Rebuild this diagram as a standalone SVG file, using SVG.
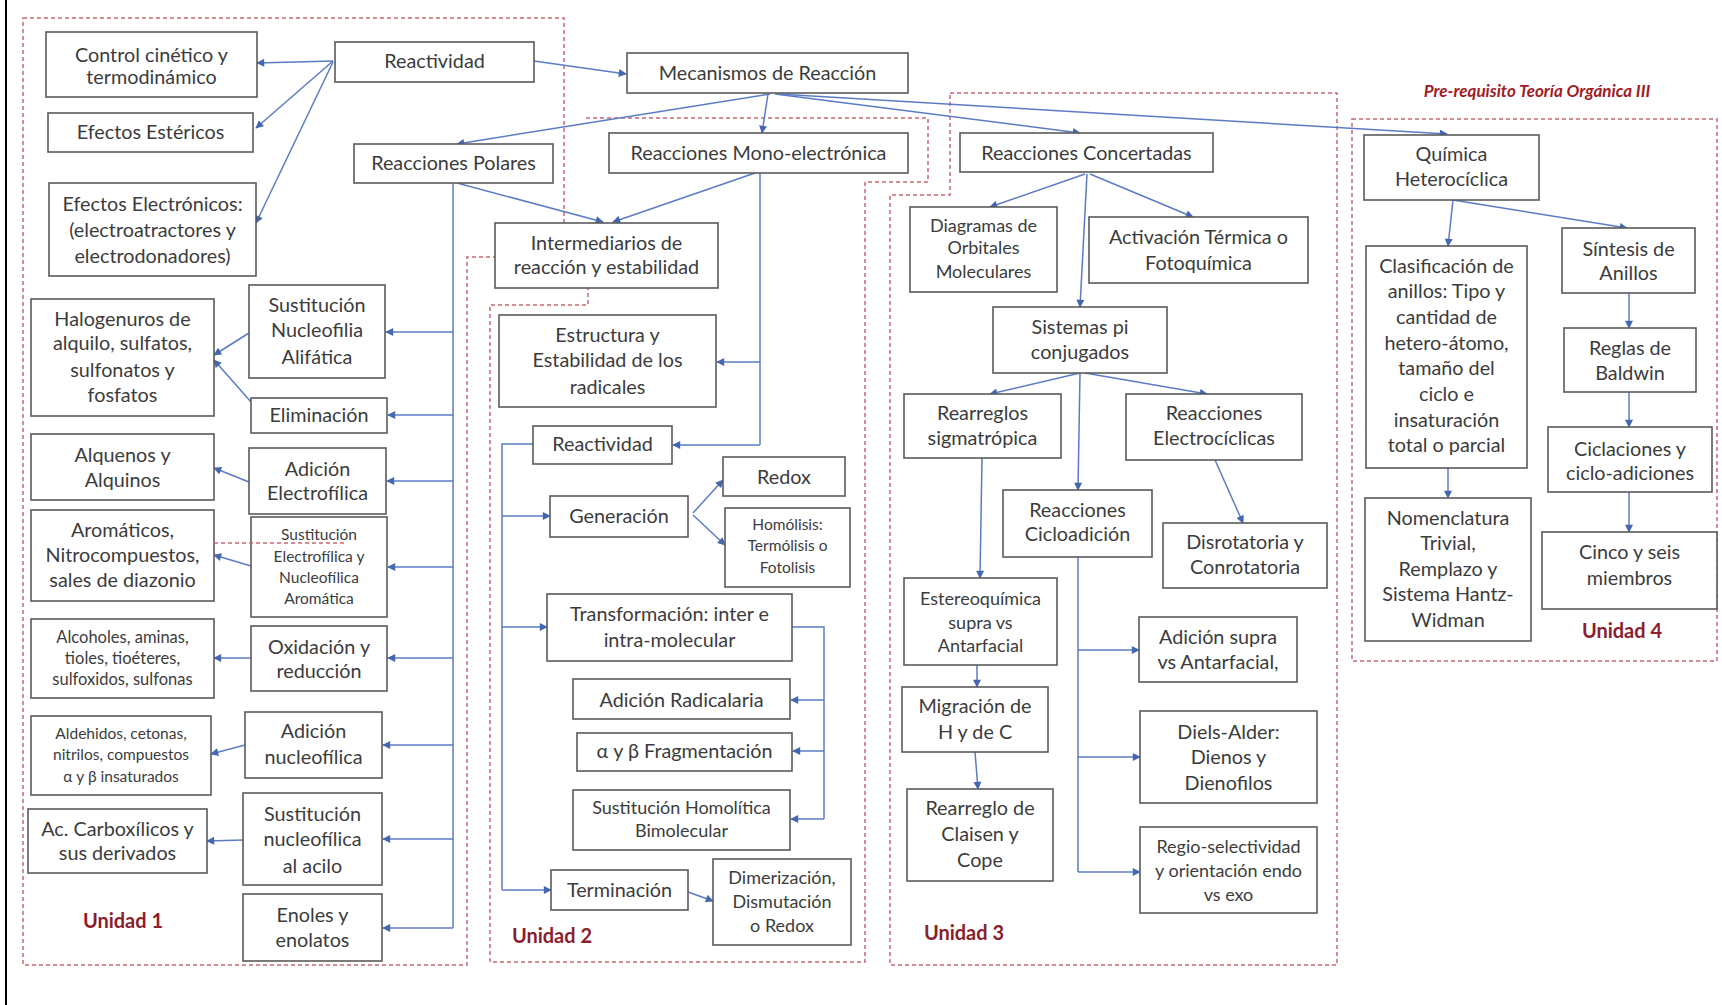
<svg xmlns="http://www.w3.org/2000/svg" width="1722" height="1005" viewBox="0 0 1722 1005">
<defs>
<style>
.n rect{fill:#fff;stroke:#5a5a5a;stroke-width:1.6}
.n text{font-family:Lato,"Liberation Sans",sans-serif;font-size:19.8px;fill:#3c3c3c;text-anchor:middle}
.n text.s{font-size:15.5px}
.n text.s2{font-size:16.5px}
.n text.m{font-size:18px}
.c path{fill:none;stroke:#5b7cc4;stroke-width:1.5}
.c path.a{marker-end:url(#ar)}
.u{fill:none;stroke:#c46a72;stroke-width:1.5;stroke-dasharray:4 3}
.lab{font-family:Lato,"Liberation Sans",sans-serif;font-size:20px;font-weight:bold;fill:#8b1e2d;text-anchor:middle}
</style>
<marker id="ar" viewBox="0 0 10 10" refX="9" refY="5" markerWidth="9" markerHeight="8" markerUnits="userSpaceOnUse" orient="auto"><path d="M0,0 L10,5 L0,10 z" fill="#4566b0"/></marker>
</defs>
<rect width="1722" height="1005" fill="#fff"/>
<path d="M6,0 V1005" stroke="#000" stroke-width="2"/>
<g id="boundaries">
<path class="u" d="M23,18 H564 V257 H467 V965 H23 Z"/>
<path class="u" d="M586,118 H928 V182 H865 V962 H490 V305 H588 V230"/>
<path class="u" d="M950,93 H1337 V965 H890 V195 H950 Z"/>
<rect class="u" x="1352" y="119" width="365" height="542"/>
</g>
<g id="connectors" class="c">
<path class="a" d="M333,61 L257,63"/>
<path class="a" d="M333,61 L256,128"/>
<path class="a" d="M333,62 L256,223"/>
<path class="a" d="M534,61 L626,74"/>
<path class="a" d="M770,94 L457,144"/>
<path class="a" d="M768,94 L762,133"/>
<path class="a" d="M775,94 L1080,133"/>
<path class="a" d="M778,94 L1447,134"/>
<path class="a" d="M457,183 L603,222"/>
<path class="a" d="M755,173 L613,222"/>
<path d="M453,183 V928"/>
<path class="a" d="M453,332 H386"/>
<path class="a" d="M453,415 H388"/>
<path class="a" d="M453,481 H387"/>
<path class="a" d="M453,567 H388"/>
<path class="a" d="M453,658 H388"/>
<path class="a" d="M453,745 H383"/>
<path class="a" d="M453,839 H383"/>
<path class="a" d="M453,928 H383"/>
<path class="a" d="M249,333 L214,355"/>
<path class="a" d="M251,402 L214,360"/>
<path class="a" d="M249,482 L214,468"/>
<path class="a" d="M251,566 L214,555"/>
<path class="a" d="M251,658 L214,658"/>
<path class="a" d="M245,745 L211,754"/>
<path class="a" d="M243,840 L207,841"/>
<path d="M760,173 V445"/>
<path class="a" d="M760,362 H717"/>
<path class="a" d="M760,445 H673"/>
<path d="M533,444 H502 V890"/>
<path class="a" d="M502,516 H550"/>
<path class="a" d="M502,627 H547"/>
<path class="a" d="M502,890 H551"/>
<path class="a" d="M693,513 L723,480"/>
<path class="a" d="M693,515 L725,545"/>
<path d="M792,627 H824 V819"/>
<path class="a" d="M824,700 H791"/>
<path class="a" d="M824,751 H793"/>
<path class="a" d="M824,819 H791"/>
<path class="a" d="M688,892 L713,901"/>
<path class="a" d="M1085,174 L990,207"/>
<path class="a" d="M1090,174 L1193,217"/>
<path class="a" d="M1087,174 L1080,307"/>
<path class="a" d="M1080,373 L990,394"/>
<path class="a" d="M1085,373 L1207,394"/>
<path class="a" d="M1080,373 L1078,490"/>
<path class="a" d="M1215,460 L1243,523"/>
<path class="a" d="M982,458 L980,578"/>
<path class="a" d="M977,665 L977,687"/>
<path class="a" d="M975,752 L978,789"/>
<path d="M1078,557 V872"/>
<path class="a" d="M1078,650 H1139"/>
<path class="a" d="M1078,757 H1140"/>
<path class="a" d="M1078,872 H1140"/>
<path class="a" d="M1453,200 L1448,246"/>
<path class="a" d="M1453,200 L1627,228"/>
<path class="a" d="M1448,468 L1448,498"/>
<path class="a" d="M1629,293 V328"/>
<path class="a" d="M1629,392 V427"/>
<path class="a" d="M1629,492 V532"/>
</g>
<g id="n-control" class="n"><rect x="46" y="32" width="211" height="65"/><text><tspan x="151.5" y="62">Control cinético y</tspan><tspan x="151.5" y="84">termodinámico</tspan></text></g>
<g id="n-react1" class="n"><rect x="335" y="42" width="199" height="40"/><text x="434.5" y="68">Reactividad</text></g>
<g id="n-esteric" class="n"><rect x="48" y="113" width="205" height="39"/><text x="150.5" y="139">Efectos Estéricos</text></g>
<g id="n-polares" class="n"><rect x="354" y="144" width="199" height="39"/><text x="453.5" y="170">Reacciones Polares</text></g>
<g id="n-electr" class="n"><rect x="49" y="183" width="207" height="93"/><text><tspan x="152.5" y="211">Efectos Electrónicos:</tspan><tspan x="152.5" y="237">(electroatractores y</tspan><tspan x="152.5" y="263">electrodonadores)</tspan></text></g>
<g id="n-mecan" class="n"><rect x="627" y="53" width="281" height="40"/><text x="767.5" y="80">Mecanismos de Reacción</text></g>
<g id="n-mono" class="n"><rect x="609" y="133" width="299" height="40"/><text x="758.5" y="160">Reacciones Mono-electrónica</text></g>
<g id="n-interm" class="n"><rect x="495" y="223" width="223" height="65"/><text><tspan x="606.5" y="250">Intermediarios de</tspan><tspan x="606.5" y="274">reacción y estabilidad</tspan></text></g>
<g id="n-estruct" class="n"><rect x="499" y="315" width="217" height="92"/><text><tspan x="607.5" y="342">Estructura y</tspan><tspan x="607.5" y="367">Estabilidad de los</tspan><tspan x="607.5" y="394">radicales</tspan></text></g>
<g id="n-snalif" class="n"><rect x="249" y="285" width="136" height="93"/><text><tspan x="317" y="312">Sustitución</tspan><tspan x="317" y="337">Nucleofilia</tspan><tspan x="317" y="364">Alifática</tspan></text></g>
<g id="n-halog" class="n"><rect x="31" y="299" width="183" height="117"/><text><tspan x="122.5" y="326">Halogenuros de</tspan><tspan x="122.5" y="350">alquilo, sulfatos,</tspan><tspan x="122.5" y="377">sulfonatos y</tspan><tspan x="122.5" y="402">fosfatos</tspan></text></g>
<g id="n-elim" class="n"><rect x="251" y="398" width="136" height="35"/><text x="319" y="422">Eliminación</text></g>
<g id="n-alquenos" class="n"><rect x="31" y="434" width="183" height="66"/><text><tspan x="122.5" y="462">Alquenos y</tspan><tspan x="122.5" y="487">Alquinos</tspan></text></g>
<g id="n-adelec" class="n"><rect x="249" y="448" width="137" height="66"/><text><tspan x="317.5" y="476">Adición</tspan><tspan x="317.5" y="500">Electrofílica</tspan></text></g>
<g id="n-aromat" class="n"><rect x="31" y="510" width="183" height="91"/><text><tspan x="122.5" y="537">Aromáticos,</tspan><tspan x="122.5" y="562">Nitrocompuestos,</tspan><tspan x="122.5" y="587">sales de diazonio</tspan></text></g>
<g id="n-sear" class="n"><rect x="251" y="517" width="136" height="100"/><text class="s"><tspan x="319" y="540">Sustitución</tspan><tspan x="319" y="562">Electrofílica y</tspan><tspan x="319" y="583">Nucleofílica</tspan><tspan x="319" y="604">Aromática</tspan></text></g>
<g id="n-alcoh" class="n"><rect x="31" y="619" width="183" height="79"/><text class="s2"><tspan x="122.5" y="643">Alcoholes, aminas,</tspan><tspan x="122.5" y="664">tioles, tioéteres,</tspan><tspan x="122.5" y="685">sulfoxidos, sulfonas</tspan></text></g>
<g id="n-oxid" class="n"><rect x="251" y="626" width="136" height="65"/><text><tspan x="319" y="654">Oxidación y</tspan><tspan x="319" y="678">reducción</tspan></text></g>
<g id="n-aldeh" class="n"><rect x="31" y="716" width="180" height="79"/><text class="s"><tspan x="121" y="739">Aldehidos, cetonas,</tspan><tspan x="121" y="760">nitrilos, compuestos</tspan><tspan x="121" y="782">α y β insaturados</tspan></text></g>
<g id="n-adnuc" class="n"><rect x="245" y="712" width="137" height="66"/><text><tspan x="313.5" y="738">Adición</tspan><tspan x="313.5" y="764">nucleofílica</tspan></text></g>
<g id="n-acarb" class="n"><rect x="28" y="809" width="179" height="64"/><text><tspan x="117.5" y="836">Ac. Carboxílicos y</tspan><tspan x="117.5" y="860">sus derivados</tspan></text></g>
<g id="n-sacil" class="n"><rect x="243" y="793" width="139" height="92"/><text><tspan x="312.5" y="821">Sustitución</tspan><tspan x="312.5" y="846">nucleofílica</tspan><tspan x="312.5" y="873">al acilo</tspan></text></g>
<g id="n-enoles" class="n"><rect x="243" y="894" width="139" height="67"/><text><tspan x="312.5" y="922">Enoles y</tspan><tspan x="312.5" y="947">enolatos</tspan></text></g>
<g id="n-react2" class="n"><rect x="533" y="426" width="139" height="38"/><text x="602.5" y="451">Reactividad</text></g>
<g id="n-gener" class="n"><rect x="550" y="496" width="138" height="41"/><text x="619" y="523">Generación</text></g>
<g id="n-redox" class="n"><rect x="723" y="457" width="122" height="39"/><text x="784" y="484">Redox</text></g>
<g id="n-homol" class="n"><rect x="725" y="508" width="125" height="79"/><text class="s"><tspan x="787.5" y="530">Homólisis:</tspan><tspan x="787.5" y="551">Termólisis o</tspan><tspan x="787.5" y="573">Fotolisis</tspan></text></g>
<g id="n-transf" class="n"><rect x="547" y="594" width="245" height="67"/><text><tspan x="669.5" y="621">Transformación: inter e</tspan><tspan x="669.5" y="647">intra-molecular</tspan></text></g>
<g id="n-adrad" class="n"><rect x="573" y="679" width="217" height="40"/><text x="681.5" y="707">Adición Radicalaria</text></g>
<g id="n-frag" class="n"><rect x="577" y="733" width="215" height="38"/><text x="684.5" y="758">α y β Fragmentación</text></g>
<g id="n-shb" class="n"><rect x="573" y="790" width="217" height="60"/><text class="m"><tspan x="681.5" y="814">Sustitución Homolítica</tspan><tspan x="681.5" y="837">Bimolecular</tspan></text></g>
<g id="n-termin" class="n"><rect x="551" y="870" width="137" height="40"/><text x="619.5" y="897">Terminación</text></g>
<g id="n-dimer" class="n"><rect x="713" y="859" width="138" height="86"/><text class="m"><tspan x="782" y="884">Dimerización,</tspan><tspan x="782" y="908">Dismutación</tspan><tspan x="782" y="932">o Redox</tspan></text></g>
<g id="n-concert" class="n"><rect x="960" y="133" width="253" height="39"/><text x="1086.5" y="160">Reacciones Concertadas</text></g>
<g id="n-diagr" class="n"><rect x="910" y="207" width="147" height="85"/><text class="m"><tspan x="983.5" y="232">Diagramas de</tspan><tspan x="983.5" y="254">Orbitales</tspan><tspan x="983.5" y="278">Moleculares</tspan></text></g>
<g id="n-activ" class="n"><rect x="1089" y="217" width="219" height="66"/><text><tspan x="1198.5" y="244">Activación Térmica o</tspan><tspan x="1198.5" y="270">Fotoquímica</tspan></text></g>
<g id="n-sispi" class="n"><rect x="993" y="307" width="174" height="66"/><text><tspan x="1080" y="334">Sistemas pi</tspan><tspan x="1080" y="359">conjugados</tspan></text></g>
<g id="n-rearr" class="n"><rect x="904" y="394" width="157" height="64"/><text><tspan x="982.5" y="420">Rearreglos</tspan><tspan x="982.5" y="445">sigmatrópica</tspan></text></g>
<g id="n-electroc" class="n"><rect x="1126" y="394" width="176" height="66"/><text><tspan x="1214" y="420">Reacciones</tspan><tspan x="1214" y="445">Electrocíclicas</tspan></text></g>
<g id="n-ciclo" class="n"><rect x="1003" y="490" width="149" height="67"/><text><tspan x="1077.5" y="517">Reacciones</tspan><tspan x="1077.5" y="541">Cicloadición</tspan></text></g>
<g id="n-disrot" class="n"><rect x="1163" y="523" width="164" height="65"/><text><tspan x="1245" y="549">Disrotatoria y</tspan><tspan x="1245" y="574">Conrotatoria</tspan></text></g>
<g id="n-estereo" class="n"><rect x="904" y="578" width="153" height="87"/><text class="m"><tspan x="980.5" y="605">Estereoquímica</tspan><tspan x="980.5" y="629">supra vs</tspan><tspan x="980.5" y="652">Antarfacial</tspan></text></g>
<g id="n-migr" class="n"><rect x="902" y="687" width="146" height="65"/><text><tspan x="975" y="713">Migración de</tspan><tspan x="975" y="739">H y de C</tspan></text></g>
<g id="n-claisen" class="n"><rect x="907" y="789" width="146" height="92"/><text><tspan x="980" y="815">Rearreglo de</tspan><tspan x="980" y="841">Claisen y</tspan><tspan x="980" y="867">Cope</tspan></text></g>
<g id="n-adsupra" class="n"><rect x="1139" y="617" width="158" height="65"/><text><tspan x="1218" y="644">Adición supra</tspan><tspan x="1218" y="669">vs Antarfacial,</tspan></text></g>
<g id="n-diels" class="n"><rect x="1140" y="711" width="177" height="92"/><text><tspan x="1228.5" y="739">Diels-Alder:</tspan><tspan x="1228.5" y="764">Dienos y</tspan><tspan x="1228.5" y="790">Dienofilos</tspan></text></g>
<g id="n-regio" class="n"><rect x="1140" y="827" width="177" height="86"/><text class="m"><tspan x="1228.5" y="853">Regio-selectividad</tspan><tspan x="1228.5" y="877">y orientación endo</tspan><tspan x="1228.5" y="901">vs exo</tspan></text></g>
<g id="n-quimica" class="n"><rect x="1364" y="135" width="175" height="65"/><text><tspan x="1451.5" y="161">Química</tspan><tspan x="1451.5" y="186">Heterocíclica</tspan></text></g>
<g id="n-clasif" class="n"><rect x="1366" y="246" width="161" height="222"/><text><tspan x="1446.5" y="273">Clasificación de</tspan><tspan x="1446.5" y="298">anillos: Tipo y</tspan><tspan x="1446.5" y="324">cantidad de</tspan><tspan x="1446.5" y="350">hetero-átomo,</tspan><tspan x="1446.5" y="375">tamaño del</tspan><tspan x="1446.5" y="401">ciclo e</tspan><tspan x="1446.5" y="427">insaturación</tspan><tspan x="1446.5" y="452">total o parcial</tspan></text></g>
<g id="n-nomencl" class="n"><rect x="1365" y="498" width="166" height="143"/><text><tspan x="1448" y="525">Nomenclatura</tspan><tspan x="1448" y="550">Trivial,</tspan><tspan x="1448" y="576">Remplazo y</tspan><tspan x="1448" y="601">Sistema Hantz-</tspan><tspan x="1448" y="627">Widman</tspan></text></g>
<g id="n-sintesis" class="n"><rect x="1562" y="228" width="133" height="65"/><text><tspan x="1628.5" y="256">Síntesis de</tspan><tspan x="1628.5" y="280">Anillos</tspan></text></g>
<g id="n-baldwin" class="n"><rect x="1564" y="328" width="132" height="64"/><text><tspan x="1630" y="355">Reglas de</tspan><tspan x="1630" y="380">Baldwin</tspan></text></g>
<g id="n-ciclac" class="n"><rect x="1548" y="427" width="164" height="65"/><text><tspan x="1630" y="456">Ciclaciones y</tspan><tspan x="1630" y="480">ciclo-adiciones</tspan></text></g>
<g id="n-cinco" class="n"><rect x="1542" y="532" width="175" height="77"/><text><tspan x="1629.5" y="559">Cinco y seis</tspan><tspan x="1629.5" y="585">miembros</tspan></text></g>
<path class="u" d="M214,543 H346"/>
<g id="labels">
<text class="lab" x="123" y="928">Unidad 1</text>
<text class="lab" x="552" y="943">Unidad 2</text>
<text class="lab" x="964" y="940">Unidad 3</text>
<text class="lab" x="1622" y="638">Unidad 4</text>
<text x="1537" y="97" style="font-family:Lato,'Liberation Sans',sans-serif;font-size:17px;font-weight:bold;font-style:italic;fill:#a01c24;text-anchor:middle">Pre-requisito Teoría Orgánica III</text>
</g>
</svg>
